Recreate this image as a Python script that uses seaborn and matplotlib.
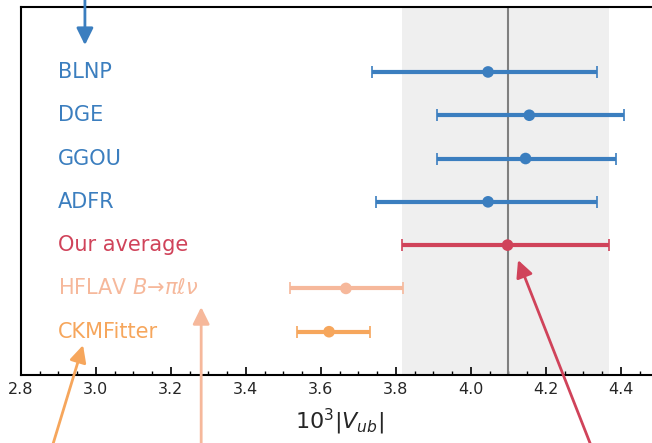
import matplotlib
matplotlib.use("Agg")
import matplotlib.pyplot as plt
import seaborn as sns
import pandas as pd
import numpy as np
from matplotlib.ticker import MultipleLocator

# ---- data ----
labels = ["BLNP", "DGE", "GGOU", "ADFR", "Our average",
          r"HFLAV $B$→$\pi\ell\nu$", "CKMFitter"]
centers = [4.046, 4.156, 4.146, 4.046, 4.098, 3.667, 3.622]
lows = [3.737, 3.909, 3.910, 3.748, 3.816, 3.518, 3.537]
highs = [4.337, 4.409, 4.387, 4.337, 4.369, 3.818, 3.731]
colors = ["#3b7ebf", "#3b7ebf", "#3b7ebf", "#3b7ebf", "#d0435a",
          "#f6b89b", "#f6a65c"]
ypos = [6, 5, 4, 3, 2, 1, 0]

avg_value = 4.098
avg_low = 3.816
avg_high = 4.369

xticks = [2.8, 3.0, 3.2, 3.4, 3.6, 3.8, 4.0, 4.2, 4.4]

df = pd.DataFrame({"label": labels, "center": centers, "low": lows,
                   "high": highs, "y": ypos, "color": colors})

sns.set_theme(style="ticks")
plt.rcParams["font.family"] = ["DejaVu Sans"]
plt.rcParams["mathtext.fontset"] = "dejavusans"

fig = plt.figure(figsize=(6.52, 4.43), dpi=100)
ax = fig.add_axes([20.8 / 652, 68 / 443, 637.5 / 652, 368 / 443])

ax.axvspan(avg_low, avg_high, color="#efefef", zorder=0, lw=0)
ax.axvline(avg_value, color="#7f7f7f", lw=1.5, zorder=1)

for _, r in df.iterrows():
    ax.errorbar(r["center"], r["y"],
                xerr=[[r["center"] - r["low"]], [r["high"] - r["center"]]],
                fmt="none", ecolor=r["color"], elinewidth=3.0,
                capsize=4.5, capthick=1.2, zorder=3)
    ax.text(2.9, r["y"], r["label"], color=r["color"], fontsize=15,
            ha="left", va="center")

sns.scatterplot(data=df, x="center", y="y", hue="label",
                palette=dict(zip(df["label"], df["color"])),
                s=70, edgecolor="none", legend=False, ax=ax, zorder=4)

# arrows (tails outside the axes)
arrows = [
    ((2.971, 6.62), (2.971, 8.4), "#3b7ebf"),
    ((2.966, -0.31), (2.865, -3.19), "#f6a65c"),
    ((3.281, 0.57), (3.281, -3.19), "#f6b89b"),
    ((4.126, 1.656), (4.346, -3.19), "#d0435a"),
]
for tip, tail, c in arrows:
    ax.annotate("", xy=tip, xytext=tail, xycoords="data",
                textcoords="data", annotation_clip=False,
                arrowprops=dict(arrowstyle="-|>,head_length=0.85,head_width=0.42",
                                color=c, lw=2, shrinkA=0, shrinkB=0),
                zorder=5)

ax.set_xlim(2.8, 4.5)
ax.set_ylim(-1, 7.5)
ax.set_xticks(xticks)
ax.set_xticklabels([f"{t:.1f}" for t in xticks])
ax.xaxis.set_minor_locator(MultipleLocator(0.05))
ax.set_yticks([])
ax.tick_params(axis="x", which="major", direction="in", length=6, width=1.2,
               labelsize=11.5, color="black", pad=5)
ax.tick_params(axis="x", which="minor", direction="in", length=3, width=1.0,
               color="black")
for s in ax.spines.values():
    s.set_color("black")
    s.set_linewidth(1.5)
ax.spines["right"].set_visible(False)
ax.set_xlabel(r"$10^3|V_{ub}|$", fontsize=16, labelpad=7)
ax.set_ylabel("")

fig.savefig("out.png", dpi=100)
